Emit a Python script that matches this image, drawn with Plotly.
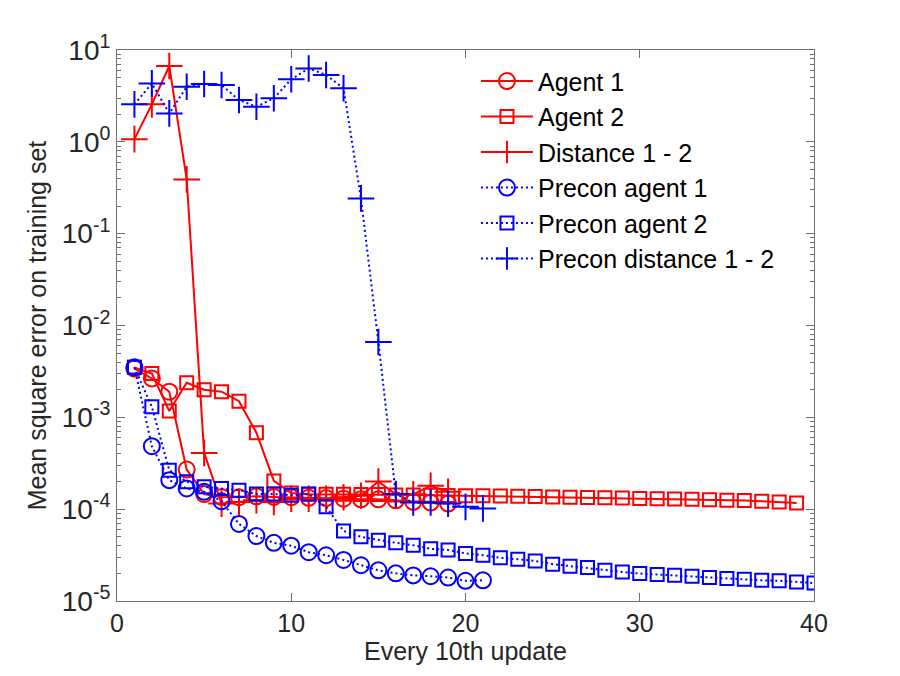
import plotly.graph_objects as go

# Every 10th update (x) and mean square error on training set (y)
x_agent1 = list(range(1, 20))
agent1 = [3.4e-3, 2.65e-3, 1.9e-3, 2.7e-4, 1.46e-4, 1.36e-4, 1.35e-4, 1.38e-4, 1.36e-4,
          1.35e-4, 1.33e-4, 1.32e-4, 1.3e-4, 1.28e-4, 1.28e-4, 1.25e-4, 1.2e-4, 1.18e-4, 1.15e-4]

x_agent2 = list(range(1, 40))
agent2 = [3.5e-3, 3.0e-3, 1.17e-3, 2.38e-3, 2.0e-3, 1.9e-3, 1.5e-3, 6.8e-4, 2.03e-4, 1.5e-4,
          1.45e-4, 1.45e-4, 1.45e-4, 1.44e-4, 1.44e-4, 1.43e-4, 1.43e-4, 1.42e-4, 1.41e-4, 1.4e-4,
          1.4e-4, 1.39e-4, 1.38e-4, 1.37e-4, 1.36e-4, 1.35e-4, 1.34e-4, 1.33e-4, 1.32e-4, 1.31e-4,
          1.3e-4, 1.29e-4, 1.28e-4, 1.27e-4, 1.25e-4, 1.24e-4, 1.22e-4, 1.2e-4, 1.17e-4]

x_dist = list(range(1, 20))
dist = [1.07, 2.56, 6.7, 0.39, 4.1e-4, 1.15e-4, 1.2e-4, 1.25e-4, 1.2e-4, 1.3e-4,
        1.3e-4, 1.3e-4, 1.35e-4, 1.4e-4, 2.0e-4, 1.45e-4, 1.45e-4, 1.8e-4, 1.55e-4]

x_pagent1 = list(range(1, 22))
pagent1 = [3.5e-3, 4.85e-4, 2.07e-4, 1.68e-4, 1.55e-4, 1.22e-4, 6.9e-5, 5.1e-5, 4.3e-5, 4.0e-5,
           3.4e-5, 3.15e-5, 2.8e-5, 2.45e-5, 2.16e-5, 2.0e-5, 1.9e-5, 1.86e-5, 1.8e-5, 1.66e-5,
           1.68e-5]

x_pagent2 = list(range(1, 41))
pagent2 = [3.5e-3, 1.3e-3, 2.66e-4, 1.99e-4, 1.75e-4, 1.68e-4, 1.61e-4, 1.46e-4, 1.46e-4, 1.42e-4,
           1.46e-4, 1.06e-4, 5.8e-5, 5.0e-5, 4.6e-5, 4.3e-5, 4.05e-5, 3.7e-5, 3.6e-5, 3.3e-5,
           3.15e-5, 2.95e-5, 2.85e-5, 2.73e-5, 2.52e-5, 2.39e-5, 2.31e-5, 2.16e-5, 2.07e-5, 1.99e-5,
           1.94e-5, 1.91e-5, 1.86e-5, 1.8e-5, 1.76e-5, 1.73e-5, 1.68e-5, 1.66e-5, 1.61e-5, 1.57e-5]

x_pdist = list(range(1, 22))
pdist = [2.56, 4.33, 2.04, 3.98, 4.26, 4.16, 2.85, 2.41, 2.98, 4.8,
         6.3, 5.35, 3.83, 0.242, 6.6e-3, 1.46e-4, 1.18e-4, 1.18e-4, 1.15e-4, 1.06e-4,
         1.02e-4]

# y axis decades and labels
y_exponents = [-5, -4, -3, -2, -1, 0, 1]
y_tickvals = [10.0 ** e for e in y_exponents]
y_ticktext = [f"10<sup>{e}</sup>" for e in y_exponents]
y_minorvals = [k * 10.0 ** e for e in y_exponents[:-1] for k in range(2, 10)]
x_tickvals = [0, 10, 20, 30, 40]

RED = "#ff0000"
BLUE = "#0000ff"

series = [
    ("Agent 1", x_agent1, agent1, RED, "solid", "circle-open", 16),
    ("Agent 2", x_agent2, agent2, RED, "solid", "square-open", 13),
    ("Distance 1 - 2", x_dist, dist, RED, "solid", "cross-thin-open", 19),
    ("Precon agent 1", x_pagent1, pagent1, BLUE, "2px,3px", "circle-open", 16),
    ("Precon agent 2", x_pagent2, pagent2, BLUE, "2px,3px", "square-open", 13),
    ("Precon distance 1 - 2", x_pdist, pdist, BLUE, "2px,3px", "cross-thin-open", 19),
]

fig = go.Figure()
for name, xs, ys, color, dash, symbol, size in series:
    fig.add_trace(go.Scatter(
        x=xs, y=ys, name=name, mode="lines+markers",
        line=dict(color=color, width=2, dash=dash),
        marker=dict(symbol=symbol, size=size, color=color, line=dict(color=color, width=2)),
    ))

axis_color = "#707070"
text_color = "#262626"
narrow = "Liberation Sans Narrow, Liberation Sans, Arial"

fig.update_xaxes(
    range=[0, 40], tickvals=x_tickvals,
    showline=True, linecolor=axis_color, linewidth=1, mirror="ticks",
    ticks="inside", ticklen=8, tickcolor=axis_color, showgrid=False, zeroline=False,
    tickfont=dict(family=narrow, size=25, color=text_color),
    title=dict(text="Every 10th update", standoff=6,
               font=dict(family=narrow, size=25, color=text_color)),
)
fig.update_yaxes(
    type="log", range=[-5, 1], tickmode="array", tickvals=y_tickvals, ticktext=y_ticktext,
    showline=True, linecolor=axis_color, linewidth=1, mirror="ticks",
    ticks="inside", ticklen=8, tickcolor=axis_color, showgrid=False, zeroline=False,
    minor=dict(ticks="inside", ticklen=4, tickcolor=axis_color, tickmode="array",
               tickvals=y_minorvals, showgrid=False),
    tickfont=dict(family="Liberation Sans, Arial", size=28, color=text_color),
    title=dict(text="Mean square error on training set", standoff=8,
               font=dict(family=narrow, size=25, color=text_color)),
)
# the page body adds an 8px offset, margins compensate for it
fig.update_layout(
    width=900, height=676,
    margin=dict(l=109, r=94, t=42, b=83),
    plot_bgcolor="white", paper_bgcolor="white",
    legend=dict(x=0.515, y=0.985, xanchor="left", yanchor="top",
                bgcolor="rgba(0,0,0,0)", font=dict(family="Liberation Sans, Arial", size=25, color="black"),
                itemwidth=52),
)
fig.write_html("out.html")
